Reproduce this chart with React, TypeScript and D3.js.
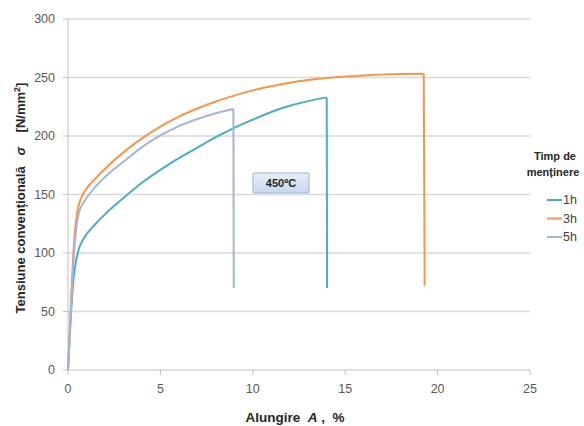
import React from "react";
import * as d3 from "d3";

const xTicks = [0, 5, 10, 15, 20, 25];
const yTicks = [0, 50, 100, 150, 200, 250, 300];

const seriesNames = ["1h", "3h", "5h"];
const seriesColors = ["#4bacc6", "#f79646", "#a5b4d8"];

const strain1h = [0, 0.1, 0.2, 0.3, 0.4, 0.5, 0.6, 0.8, 1, 1.5, 2, 3, 4, 5, 6, 7, 8, 9, 10, 11, 12, 13, 14, 14.02];
const stress1h = [0, 30, 58, 78, 90, 98, 104, 111, 116, 125, 133, 147, 160, 171, 181, 190, 199, 207, 214, 220.5, 225.8, 229.8, 233, 70];

const strain3h = [0, 0.1, 0.2, 0.3, 0.4, 0.5, 0.6, 0.8, 1, 1.5, 2, 3, 4, 5, 6, 7, 8, 9, 10, 11, 12, 13, 14, 15, 16, 17, 18, 19.25, 19.3];
const stress3h = [0, 35, 72, 102, 123, 135, 142, 150, 155, 164, 172, 186, 198, 208, 216.5, 223.5, 229.5, 234.5, 239, 242.5, 245.5, 247.8, 249.5, 250.8, 251.8, 252.5, 253, 253.3, 72];

const strain5h = [0, 0.1, 0.2, 0.3, 0.4, 0.5, 0.6, 0.8, 1, 1.5, 2, 3, 4, 5, 6, 7, 8, 8.95, 8.97];
const stress5h = [0, 33, 66, 94, 114, 127, 135, 142, 147, 157, 165, 178, 190.5, 200.5, 208.5, 214.5, 219.5, 223, 70];

const W = 584;
const H = 426;
const left = 68;
const right = 530;
const top = 19;
const bottom = 370;

export default function App() {
  const x = d3.scaleLinear().domain([0, 25]).range([left, right]);
  const y = d3.scaleLinear().domain([0, 300]).range([bottom, top]);
  const line = d3
    .line<[number, number]>()
    .x((d) => x(d[0]))
    .y((d) => y(d[1]))
    .curve(d3.curveMonotoneX);
  const straight = d3
    .line<[number, number]>()
    .x((d) => x(d[0]))
    .y((d) => y(d[1]));

  const allSeries = [
    [strain1h, stress1h],
    [strain3h, stress3h],
    [strain5h, stress5h],
  ];

  const font = "'Liberation Sans', Arial, sans-serif";
  const pre = { whiteSpace: "pre" as const };

  return (
    <div style={{ position: "absolute", left: 0, top: 0 }}>
      <svg width={W} height={H} style={{ display: "block", background: "#fff" }} fontFamily={font}>
        <defs>
          <linearGradient id="boxg" x1="0" y1="0" x2="0" y2="1">
            <stop offset="0" stopColor="#e9eff8" />
            <stop offset="1" stopColor="#c6d7ef" />
          </linearGradient>
        </defs>
        {yTicks.map((t) => (
          <g key={"y" + t}>
            {t > 0 && (
              <line x1={left} x2={right} y1={y(t)} y2={y(t)} stroke="#d9d9d9" strokeWidth={1.5} />
            )}
            <line x1={left - 5} x2={left} y1={y(t)} y2={y(t)} stroke="#bfbfbf" strokeWidth={1} />
            <text x={left - 13} y={y(t)} dy="0.35em" textAnchor="end" fontSize={12.5} fill="#595959">
              {t}
            </text>
          </g>
        ))}
        <line x1={left} x2={left} y1={top} y2={bottom} stroke="#bfbfbf" strokeWidth={1} />
        <line x1={left} x2={right} y1={bottom} y2={bottom} stroke="#bfbfbf" strokeWidth={1.2} />
        {xTicks.map((t) => (
          <g key={"x" + t}>
            <line x1={x(t)} x2={x(t)} y1={bottom} y2={bottom + 5} stroke="#bfbfbf" strokeWidth={1} />
            <text x={x(t)} y={bottom + 23} textAnchor="middle" fontSize={12.5} fill="#595959">
              {t}
            </text>
          </g>
        ))}
        {allSeries.map(([xs, ys], i) => {
          const n = xs.length;
          const pts: [number, number][] = xs.map((v, k) => [v, ys[k]]);
          const curvePts = pts.slice(0, n - 1);
          const dropPts = pts.slice(n - 2);
          return (
            <g key={seriesNames[i]}>
              <path d={line(curvePts) || ""} fill="none" stroke={seriesColors[i]} strokeWidth={2} />
              <path d={straight(dropPts) || ""} fill="none" stroke={seriesColors[i]} strokeWidth={2} />
            </g>
          );
        })}
        <rect x={253} y={173} width={56} height={20} fill="url(#boxg)" stroke="#95b3d7" strokeWidth={1} rx={1} />
        <text x={281} y={183} dy="0.35em" textAnchor="middle" fontSize={11} fontWeight="bold" fill="#1f1f1f">
          450ºC
        </text>
        <text
          transform={`translate(25, 198) rotate(-90)`}
          textAnchor="middle"
          fontSize={13}
          fontWeight="bold"
          fill="#262626"
          style={pre}
        >
          <tspan>Tensiune convențională   </tspan>
          <tspan fontStyle="italic">σ</tspan>
          <tspan>    [N/mm</tspan>
          <tspan fontSize={9} dy={-5}>2</tspan>
          <tspan dy={5}>]</tspan>
        </text>
        <text x={295} y={422} textAnchor="middle" fontSize={13.5} fontWeight="bold" fill="#262626" style={pre}>
          <tspan>Alungire  </tspan>
          <tspan fontStyle="italic">A</tspan>
          <tspan> ,  %</tspan>
        </text>
        <text x={555} y={160} textAnchor="middle" fontSize={11} fontWeight="bold" fill="#262626">
          Timp de
        </text>
        <text x={553} y={176} textAnchor="middle" fontSize={11} fontWeight="bold" fill="#262626">
          menținere
        </text>
        {seriesNames.map((name, i) => (
          <g key={"lg" + name}>
            <line x1={547} x2={562} y1={200 + i * 18.5} y2={200 + i * 18.5} stroke={seriesColors[i]} strokeWidth={2} />
            <text x={563} y={200 + i * 18.5} dy="0.35em" fontSize={12.5} fill="#404040">
              {name}
            </text>
          </g>
        ))}
      </svg>
    </div>
  );
}
